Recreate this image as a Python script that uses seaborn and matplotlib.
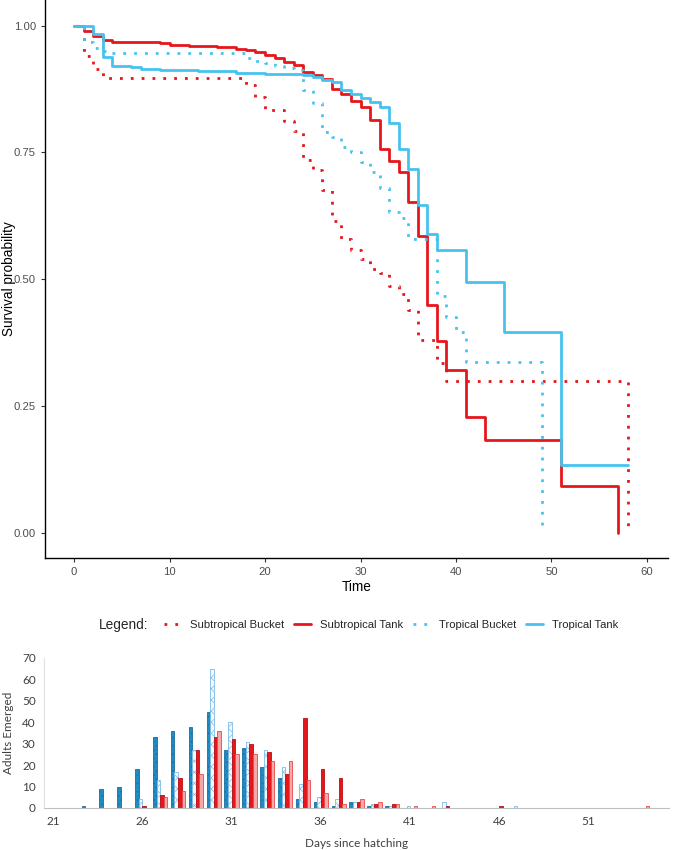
import matplotlib
matplotlib.use("Agg")
import matplotlib.pyplot as plt
import seaborn as sns
import pandas as pd

# survival curves (Kaplan-Meier steps), time in days
SB_T = [0, 1, 2, 3, 18, 19, 20, 22, 23, 24, 25, 26, 27, 28, 29, 30, 31, 32, 33, 34, 35, 36, 38, 39, 58]
SB_S = [1.0, 0.940, 0.915, 0.896, 0.883, 0.860, 0.833, 0.813, 0.792, 0.735, 0.715, 0.675, 0.615,
        0.580, 0.557, 0.540, 0.520, 0.513, 0.487, 0.471, 0.440, 0.380, 0.334, 0.300, 0.0]

ST_T = [0, 1, 2, 3, 4, 9, 10, 12, 15, 17, 18, 19, 20, 21, 22, 23, 24, 25, 26, 27, 28, 29, 30, 31,
        32, 33, 34, 35, 36, 37, 38, 39, 41, 43, 51, 57]
ST_S = [1.0, 0.990, 0.980, 0.972, 0.968, 0.965, 0.962, 0.960, 0.958, 0.955, 0.952, 0.948, 0.943,
        0.936, 0.929, 0.922, 0.909, 0.903, 0.894, 0.876, 0.865, 0.851, 0.840, 0.814, 0.757, 0.734,
        0.712, 0.653, 0.585, 0.450, 0.379, 0.321, 0.229, 0.183, 0.092, 0.0]

TB_T = [0, 1, 2, 3, 4, 18, 19, 20, 21, 22, 23, 24, 25, 26, 27, 28, 29, 30, 31, 32, 33, 34, 35,
        38, 39, 40, 41, 49]
TB_S = [1.0, 0.967, 0.957, 0.951, 0.946, 0.936, 0.930, 0.926, 0.920, 0.917, 0.913, 0.873, 0.847,
        0.791, 0.781, 0.761, 0.751, 0.732, 0.712, 0.680, 0.633, 0.620, 0.579, 0.466, 0.426, 0.396,
        0.337, 0.0]

TT_T = [0, 2, 3, 4, 6, 7, 9, 13, 17, 20, 24, 25, 26, 27, 28, 29, 30, 31, 32, 33, 34, 35, 36, 37,
        38, 41, 45, 51, 58]
TT_S = [1.0, 0.983, 0.939, 0.921, 0.918, 0.915, 0.913, 0.910, 0.907, 0.905, 0.903, 0.899, 0.893,
        0.889, 0.873, 0.866, 0.857, 0.850, 0.840, 0.808, 0.757, 0.717, 0.646, 0.590, 0.557, 0.495,
        0.396, 0.133, 0.133]

# adults emerged per day since hatching
DAYS = list(range(21, 56))
EM_TT = [0, 0, 1, 9, 10, 18, 33, 36, 38, 45, 27, 28, 19, 14, 4, 3, 1, 3, 1, 1,
         0, 0, 0, 0, 0, 0, 0, 0, 0, 0, 0, 0, 0, 0, 0]
EM_TB = [0, 0, 0, 0, 0, 4, 13, 17, 27, 65, 40, 31, 27, 19, 11, 5, 4, 3, 2, 1,
         1, 0, 3, 0, 0, 0, 1, 0, 0, 0, 0, 0, 0, 0, 0]
EM_ST = [0, 0, 0, 0, 0, 1, 6, 14, 27, 33, 32, 30, 26, 16, 42, 18, 14, 3, 2, 2,
         0, 0, 1, 0, 0, 1, 0, 0, 0, 0, 0, 0, 0, 0, 0]
EM_SB = [0, 0, 0, 0, 0, 0, 5, 8, 16, 36, 25, 25, 22, 22, 13, 7, 2, 4, 3, 2,
         1, 1, 0, 0, 0, 0, 0, 0, 0, 0, 0, 0, 0, 1, 0]

RED = "#E5161C"
CYAN = "#45C3EE"
DOTS = (0, (1, 2.9))

sns.set_style("ticks")
plt.rcParams["font.family"] = ["Liberation Sans", "DejaVu Sans"]
plt.rcParams["hatch.linewidth"] = 0.5

fig = plt.figure(figsize=(6.76, 8.5), dpi=100)
W, H = 676, 850

# ---- survival plot ----
ax1 = fig.add_axes([45 / W, 1 - 558 / H, 623 / W, 558 / H])
curves = [
    ("Subtropical Bucket", SB_T, SB_S, RED, DOTS),
    ("Subtropical Tank", ST_T, ST_S, RED, "-"),
    ("Tropical Bucket", TB_T, TB_S, CYAN, DOTS),
    ("Tropical Tank", TT_T, TT_S, CYAN, "-"),
]
for name, t, s, col, ls in curves:
    sns.lineplot(x=t, y=s, ax=ax1, drawstyle="steps-post", color=col, linestyle=ls,
                 lw=2.0, label=name, estimator=None, sort=False)
ax1.get_legend().remove()

ax1.set_xlim(-3.04, 62.2)
ax1.set_ylim(-0.05, 1.0507)
ax1.set_xticks(range(0, 61, 10))
ax1.set_yticks([0, 0.25, 0.5, 0.75, 1.0])
ax1.set_yticklabels(["0.00", "0.25", "0.50", "0.75", "1.00"])
sns.despine(ax=ax1)
for sp in ("left", "bottom"):
    ax1.spines[sp].set_color("black")
    ax1.spines[sp].set_linewidth(1.0)
ax1.tick_params(colors="#333333", labelcolor="#4D4D4D", labelsize=8.1, length=3, width=0.8)
ax1.set_xlabel("Time", fontsize=9.8, color="black", labelpad=2)
ax1.set_ylabel("Survival probability", fontsize=9.8, color="black")
ax1.yaxis.set_label_coords(-0.047, 0.5)

handles = ax1.get_lines()[:4]
fig.text(148 / W, 1 - 625 / H, "Legend:", ha="right", va="center", fontsize=9.8)
fig.legend(handles=handles, labels=[c[0] for c in curves], loc="center left",
           bbox_to_anchor=(158 / W, 1 - 625 / H), ncol=4, frameon=False, fontsize=8.1,
           handlelength=1.5, handletextpad=0.8, columnspacing=0.9, borderpad=0)

# ---- emergence bar chart ----
groups = ["Tropical Tank", "Tropical Bucket", "Subtropical Tank", "Subtropical Bucket"]
df = pd.DataFrame({
    "day": DAYS * 4,
    "n": EM_TT + EM_TB + EM_ST + EM_SB,
    "group": [g for g in groups for _ in DAYS],
})
df = df[df["n"] > 0]

ax2 = fig.add_axes([44 / W, 1 - 808 / H, 625 / W, 150 / H])
pal = {"Tropical Tank": "#1F8CC4", "Tropical Bucket": "#F4F9FD",
       "Subtropical Tank": "#E5161C", "Subtropical Bucket": "#F6A9A9"}
sns.barplot(data=df, x="day", y="n", hue="group", order=DAYS, hue_order=groups,
            palette=pal, width=0.8, ax=ax2, legend=False, saturation=1)
styles = {
    "Tropical Tank": dict(edgecolor="#1A6E9E", hatch="...."),
    "Tropical Bucket": dict(edgecolor="#7DBBE6", hatch="xxx"),
    "Subtropical Tank": dict(edgecolor="#B80E12", hatch=None),
    "Subtropical Bucket": dict(edgecolor="#E8474B", hatch=None),
}
for cont, g in zip(ax2.containers, groups):
    for bar in cont:
        bar.set_edgecolor(styles[g]["edgecolor"])
        bar.set_linewidth(0.6)
        if styles[g]["hatch"]:
            bar.set_hatch(styles[g]["hatch"])

ax2.set_ylim(0, 70)
ax2.set_xlim(-0.5, len(DAYS) - 0.5)
ax2.set_yticks(range(0, 71, 10))
ax2.set_xticks([DAYS.index(d) for d in range(21, 52, 5)])
ax2.set_xticklabels([str(d) for d in range(21, 52, 5)])
for sp in ("top", "right"):
    ax2.spines[sp].set_visible(False)
ax2.spines["left"].set_color("#E0E0E0")
ax2.spines["left"].set_linewidth(0.8)
ax2.spines["bottom"].set_color("#BFBFBF")
ax2.spines["bottom"].set_linewidth(0.8)
ax2.tick_params(length=0, labelsize=8.5, labelcolor="#404040", pad=6)
for lab in ax2.get_xticklabels() + ax2.get_yticklabels():
    lab.set_family(["Lato", "DejaVu Sans"])
ax2.set_xlabel("Days since hatching", fontsize=8.5, color="#404040", family=["Lato", "DejaVu Sans"],
               labelpad=8)
ax2.set_ylabel("Adults Emerged", fontsize=8.5, color="#404040", family=["Lato", "DejaVu Sans"],
               labelpad=6)

fig.savefig("out.png", dpi=100)
